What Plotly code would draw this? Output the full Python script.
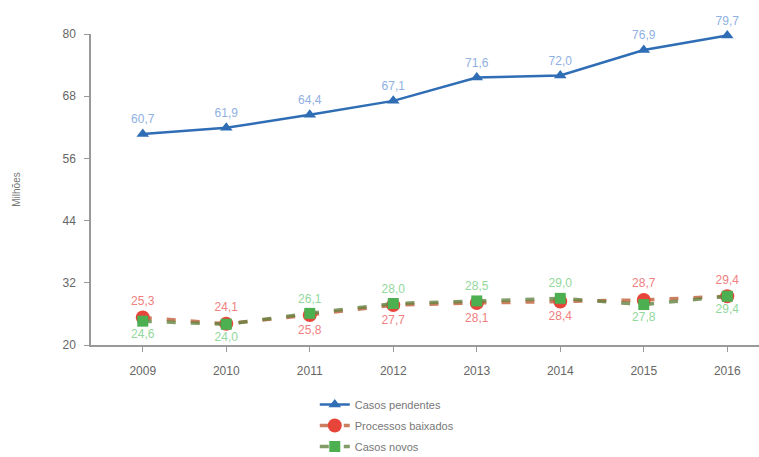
import plotly.graph_objects as go

anos = [2009, 2010, 2011, 2012, 2013, 2014, 2015, 2016]
casos_pendentes = [60.7, 61.9, 64.4, 67.1, 71.6, 72.0, 76.9, 79.7]
processos_baixados = [25.3, 24.1, 25.8, 27.7, 28.1, 28.4, 28.7, 29.4]
casos_novos = [24.6, 24.0, 26.1, 28.0, 28.5, 29.0, 27.8, 29.4]
y_ticks = [20, 32, 44, 56, 68, 80]

def fmt(v):
    return f"{v:.1f}".replace(".", ",")

pos_baix = ["top center" if b >= n else "bottom center" for b, n in zip(processos_baixados, casos_novos)]
pos_novos = ["bottom center" if b >= n else "top center" for b, n in zip(processos_baixados, casos_novos)]

fig = go.Figure()
fig.add_trace(go.Scatter(
    x=anos, y=casos_pendentes, name="Casos pendentes", legendgroup="a",
    mode="lines+markers+text", cliponaxis=False,
    line=dict(color="#2f6db5", width=2.5),
    marker=dict(symbol="triangle-up", size=11, color="#2f6db5"),
    text=[fmt(v) for v in casos_pendentes], textposition="top center",
    textfont=dict(color="#8fb0e2", size=12, family="Liberation Sans"),
))
fig.add_trace(go.Scatter(
    x=anos, y=processos_baixados, name="Processos baixados", legendgroup="b",
    mode="lines+markers+text", cliponaxis=False,
    line=dict(color="rgba(190,95,55,0.8)", width=3.5, dash="9px,15px"),
    marker=dict(symbol="circle", size=14, color="#e8453a"),
    text=[fmt(v) for v in processos_baixados], textposition=pos_baix,
    textfont=dict(color="#f08080", size=12, family="Liberation Sans"),
))
fig.add_trace(go.Scatter(
    x=anos, y=casos_novos, name="Casos novos", legendgroup="c",
    mode="lines+markers+text", cliponaxis=False,
    line=dict(color="rgba(100,130,65,0.8)", width=3.5, dash="9px,15px"),
    marker=dict(symbol="square", size=11, color="#4caf50"),
    text=[fmt(v) for v in casos_novos], textposition=pos_novos,
    textfont=dict(color="#92d89c", size=12, family="Liberation Sans"),
))

fig.update_layout(
    width=759, height=457,
    margin=dict(l=91, r=0, t=34, b=112, autoexpand=False),
    paper_bgcolor="white", plot_bgcolor="white",
    font=dict(family="Liberation Sans", color="#666666", size=12),
    showlegend=True,
    legend=dict(orientation="v", x=0.335, xanchor="left",
                yref="container", y=1 - 390 / 457, yanchor="top",
                font=dict(size=11, color="#777777"), tracegroupgap=2, itemwidth=30),
    xaxis=dict(range=[2008.38, 2016.38], tickmode="array", tickvals=anos,
               ticktext=[str(a) for a in anos], showline=True, linecolor="#999999",
               linewidth=1.5, ticks="outside", ticklen=5, tickcolor="#999999",
               ticklabelstandoff=9, automargin=False,
               showgrid=False, zeroline=False, tickfont=dict(size=12, color="#666666")),
    yaxis=dict(range=[20, 80], tickmode="array", tickvals=y_ticks,
               showline=True, linecolor="#999999", linewidth=1.5,
               ticks="outside", ticklen=5, tickcolor="#999999",
               ticklabelstandoff=6, automargin=False,
               showgrid=False, zeroline=False, tickfont=dict(size=12, color="#666666"),
               title=dict(text="Milhões", font=dict(size=10, color="#777777"), standoff=40)),
)

fig.write_html("out.html")
